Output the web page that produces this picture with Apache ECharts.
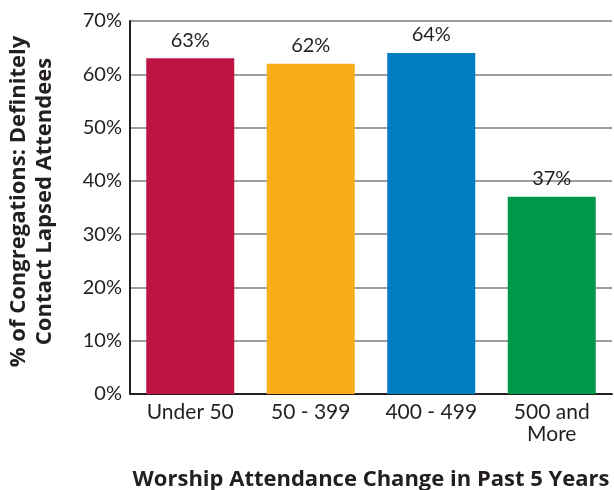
<!DOCTYPE html>
<html>
<head>
<meta charset="utf-8">
<script src="https://cdn.jsdelivr.net/npm/echarts@6/dist/echarts.min.js"></script>
<style>html,body{margin:0;padding:0;background:#fff;}#c{width:614px;height:490px;}</style>
</head>
<body>
<div id="c"></div>
<script>
const categories = ['Under 50', '50 - 399', '400 - 499', '500 and\nMore'];
const values = [63, 62, 64, 37];
const barColors = ['#BE1443', '#F8AD1A', '#007CC3', '#00984A'];
const yTicks = [0, 10, 20, 30, 40, 50, 60, 70];

const chart = echarts.init(document.getElementById('c'), null, {renderer: 'canvas'});
const font = 'Lato, "Open Sans", sans-serif';
const boldFont = '"Open Sans", Lato, sans-serif';
chart.setOption({
  animation: false,
  grid: {left: 130, right: 2, top: 21, bottom: 96, containLabel: false, outerBoundsMode: 'none'},
  xAxis: {
    type: 'category',
    data: categories,
    name: 'Worship Attendance Change in Past 5 Years',
    nameLocation: 'middle',
    nameGap: 75,
    nameTextStyle: {fontFamily: boldFont, fontWeight: 'bold', fontSize: 22, color: '#231f20'},
    axisLine: {lineStyle: {color: '#231f20', width: 2}},
    axisTick: {inside: true, length: 6, lineStyle: {color: '#231f20', width: 2}},
    axisLabel: {fontFamily: font, fontSize: 21, color: '#231f20', margin: 7, lineHeight: 22}
  },
  yAxis: {
    type: 'value',
    min: yTicks[0],
    max: yTicks[yTicks.length - 1],
    interval: 10,
    name: '% of Congregations: Definitely\nContact Lapsed Attendees',
    nameLocation: 'middle',
    nameRotate: 90,
    nameGap: 72,
    nameTextStyle: {fontFamily: boldFont, fontWeight: 'bold', fontSize: 22, color: '#231f20', lineHeight: 26, padding: [0, 0, 0, 12]},
    axisLine: {show: true, lineStyle: {color: '#231f20', width: 2}},
    axisTick: {show: false},
    axisLabel: {fontFamily: font, fontSize: 20, color: '#231f20', margin: 8, formatter: v => v + '%'},
    splitLine: {lineStyle: {color: '#9d9d9d', width: 2}}
  },
  series: [{
    type: 'bar',
    data: values.map((v, i) => ({value: v, itemStyle: {color: barColors[i]}})),
    barWidth: 88,
    label: {show: true, position: 'top', distance: 8, fontFamily: font, fontSize: 20, color: '#231f20', formatter: p => p.value + '%'}
  }]
});
</script>
</body>
</html>
